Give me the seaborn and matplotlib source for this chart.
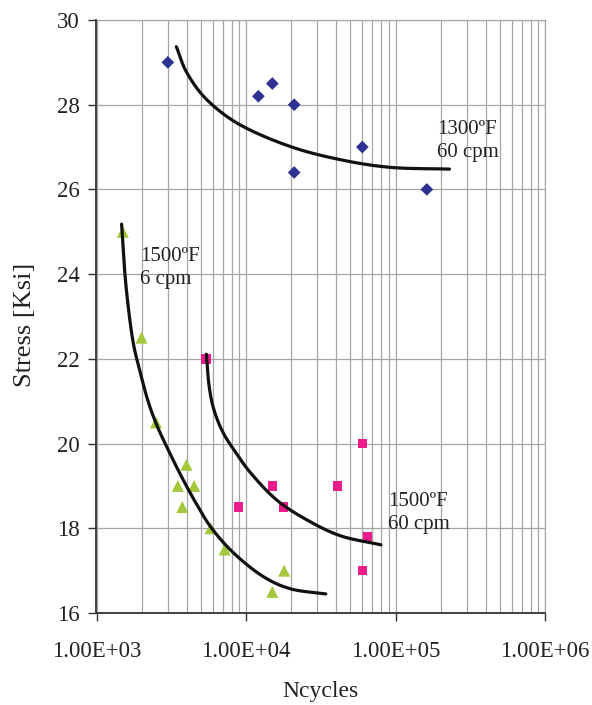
import numpy as np
import pandas as pd
import matplotlib
matplotlib.use("Agg")
import matplotlib.pyplot as plt
import seaborn as sns

# ---- data ----
n_1300 = [3000, 12100, 15000, 21000, 21000, 60000, 162000]
s_1300 = [29.0, 28.2, 28.5, 28.0, 26.4, 27.0, 26.0]

n_1500_6 = [1500, 2000, 2500, 4000, 3500, 4500, 3750, 5800, 7200, 18000, 15000]
s_1500_6 = [25.0, 22.5, 20.5, 19.5, 19.0, 19.0, 18.5, 18.0, 17.5, 17.0, 16.5]

n_1500_60 = [5400, 60000, 15000, 41000, 8900, 17900, 65000, 60000]
s_1500_60 = [22.0, 20.0, 19.0, 19.0, 18.5, 18.5, 17.8, 17.0]

# trend curves
c1300_n = [3420, 4030, 5500, 9190, 19900, 43100, 93300, 229600]
c1300_s = [29.37, 28.75, 28.11, 27.52, 27.01, 26.70, 26.52, 26.48]

c6_n = [1472, 1541, 1640, 1771, 1959, 2199, 2527, 3019, 3690, 4582, 5868, 8245, 12900, 19890, 34170]
c6_s = [25.18, 24.10, 23.15, 22.33, 21.69, 21.03, 20.44, 19.85, 19.23, 18.62, 18.01, 17.42, 16.87, 16.57, 16.45]

c60_n = [5431, 5602, 5913, 6437, 7173, 8245, 10720, 16020, 25470, 43070, 79940]
c60_s = [22.11, 21.50, 20.98, 20.56, 20.20, 19.87, 19.31, 18.67, 18.20, 17.82, 17.61]

x_ticks = [1e3, 1e4, 1e5, 1e6]
x_tick_labels = ["1.00E+03", "1.00E+04", "1.00E+05", "1.00E+06"]
y_ticks = [16, 18, 20, 22, 24, 26, 28, 30]

labels_text = ["1300\u00baF\n60 cpm", "1500\u00baF\n6 cpm", "1500\u00baF\n60 cpm"]
labels_pos = [(190000, 27.14), (1960, 24.15), (89000, 18.36)]


def smooth_line(xs, ys, steps=16):
    """Excel-style smoothed line: Catmull-Rom through the given points (log-x space)."""
    lx = np.log10(np.asarray(xs, float))
    y = np.asarray(ys, float)
    px = np.concatenate([[2 * lx[0] - lx[1]], lx, [2 * lx[-1] - lx[-2]]])
    py = np.concatenate([[2 * y[0] - y[1]], y, [2 * y[-1] - y[-2]]])
    outx, outy = [], []
    t = np.linspace(0, 1, steps, endpoint=False)
    for i in range(1, len(px) - 2):
        for arr, out in ((px, outx), (py, outy)):
            p0, p1, p2, p3 = arr[i - 1], arr[i], arr[i + 1], arr[i + 2]
            out.extend(0.5 * ((2 * p1) + (-p0 + p2) * t + (2 * p0 - 5 * p1 + 4 * p2 - p3) * t ** 2
                              + (-p0 + 3 * p1 - 3 * p2 + p3) * t ** 3))
    outx.append(lx[-1])
    outy.append(y[-1])
    return 10 ** np.array(outx), np.array(outy)


# ---- style ----
sns.set_style("white")
plt.rcParams["font.family"] = ["Liberation Serif", "DejaVu Serif"]

fig = plt.figure(figsize=(5.92, 7.05), dpi=100)
ax = fig.add_axes([96.5 / 592, 92 / 705, (545 - 96.5) / 592, (613 - 20) / 705])

blue = "#2E3192"
pink = "#EC1C8C"
green = "#A3C83C"

d1 = pd.DataFrame({"N": n_1300, "S": s_1300})
d2 = pd.DataFrame({"N": n_1500_6, "S": s_1500_6})
d3 = pd.DataFrame({"N": n_1500_60, "S": s_1500_60})

ax.set_xscale("log")

sns.scatterplot(data=d1, x="N", y="S", marker="D", s=42, color=blue, edgecolor="none", ax=ax, zorder=3)
sns.scatterplot(data=d2, x="N", y="S", marker="^", s=75, color=green, edgecolor="none", ax=ax, zorder=3)
sns.scatterplot(data=d3, x="N", y="S", marker="s", s=45, color=pink, edgecolor="none", ax=ax, zorder=3)

for cn, cs in [(c1300_n, c1300_s), (c6_n, c6_s), (c60_n, c60_s)]:
    sx, sy = smooth_line(cn, cs)
    sns.lineplot(x=sx, y=sy, sort=False, estimator=None, color="#111111", lw=2.3, ax=ax, zorder=4)

for txt, (tx, ty) in zip(labels_text, labels_pos):
    ax.text(tx, ty, txt, ha="left", va="center", fontsize=15, color="#222222", linespacing=1.25)

ax.set_xlim(1e3, 1e6)
ax.set_ylim(16, 30)
ax.set_xticks(x_ticks)
ax.set_xticklabels(x_tick_labels)
ax.set_yticks(y_ticks)
ax.set_yticklabels([str(v) for v in y_ticks])
ax.xaxis.set_minor_locator(matplotlib.ticker.LogLocator(base=10, subs=np.arange(2, 10), numticks=20))
ax.xaxis.set_minor_formatter(matplotlib.ticker.NullFormatter())

ax.grid(True, which="major", axis="both", color="#A6A6A6", lw=0.9)
ax.grid(True, which="minor", axis="x", color="#A6A6A6", lw=0.9)
ax.set_axisbelow(True)

ax.tick_params(axis="x", which="major", direction="out", length=6, width=1, color="#333333",
               pad=14, labelsize=16.5, labelcolor="#222222", bottom=True)
ax.tick_params(axis="x", which="minor", length=0)
ax.tick_params(axis="y", which="major", direction="out", length=6, width=1, color="#333333",
               pad=6, labelsize=16.5, labelcolor="#222222", left=True)

for side in ["left", "bottom"]:
    ax.spines[side].set_color("#333333")
    ax.spines[side].set_linewidth(1.3)
for side in ["top", "right"]:
    ax.spines[side].set_color("#A6A6A6")
    ax.spines[side].set_linewidth(0.9)

ax.set_xlabel("Ncycles", fontsize=17, color="#222222", labelpad=14)
ax.set_ylabel("Stress [Ksi]", fontsize=19, color="#222222")
ax.yaxis.set_label_coords(-0.135, 0.486)

fig.savefig("out.png", dpi=100)
